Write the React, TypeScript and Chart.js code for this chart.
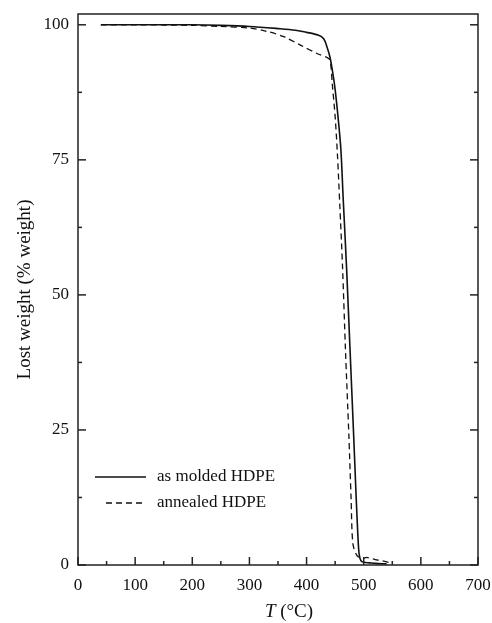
import React, { useEffect, useRef } from "react";
import { Chart, registerables } from "chart.js";

Chart.register(...registerables);

// As molded HDPE (solid)
const moldedT = [40, 100, 200, 250, 300, 350, 380, 400, 420, 430, 436, 441, 446, 450, 455, 460, 464, 470, 476, 482, 487, 490, 492, 495, 500, 510, 520, 540];
const moldedW = [100, 100, 100, 99.9, 99.7, 99.3, 99, 98.6, 98.1, 97.4, 95.8, 94, 91, 88, 83, 77, 68, 55, 40, 25, 12, 5, 2, 0.8, 0.5, 0.4, 0.3, 0.2];

// Annealed HDPE (dashed)
const annealedT = [40, 100, 200, 250, 300, 330, 360, 390, 420, 435, 441, 445, 450, 454, 458, 463, 468, 474, 478, 481, 488, 498, 505, 520, 535, 550];
const annealedW = [100, 100, 99.9, 99.7, 99.4, 98.8, 97.8, 96.2, 94.6, 94, 93.5, 89, 83, 76, 67, 55, 40, 24, 12, 4, 1.8, 1.2, 1.4, 1, 0.7, 0.3];

const xTicks = [0, 100, 200, 300, 400, 500, 600, 700];
const yTicks = [0, 25, 50, 75, 100];

const seriesLabels = ["as molded HDPE", "annealed HDPE"];

const SERIF = "'Liberation Serif', 'DejaVu Serif', serif";

const framePlugin = {
  id: "frame",
  afterDraw(chart: any) {
    const { ctx, chartArea: a, scales } = chart;
    const xs = scales.x;
    const ys = scales.y;
    ctx.save();
    ctx.strokeStyle = "#222";
    ctx.lineWidth = 1.5;
    ctx.strokeRect(a.left, a.top, a.right - a.left, a.bottom - a.top);
    // x ticks (inward)
    for (let v = 0; v <= 700; v += 50) {
      const px = xs.getPixelForValue(v);
      const len = v % 100 === 0 ? 8 : 4;
      ctx.beginPath();
      ctx.moveTo(px, a.bottom);
      ctx.lineTo(px, a.bottom - len);
      ctx.stroke();
    }
    // y ticks (inward)
    for (let v = 0; v <= 100; v += 12.5) {
      const py = ys.getPixelForValue(v);
      const len = v % 25 === 0 ? 8 : 4;
      ctx.beginPath();
      ctx.moveTo(a.left, py);
      ctx.lineTo(a.left + len, py);
      ctx.stroke();
      ctx.beginPath();
      ctx.moveTo(a.right, py);
      ctx.lineTo(a.right - len, py);
      ctx.stroke();
    }
    // x title with italic T
    ctx.fillStyle = "#111";
    ctx.textBaseline = "middle";
    const italic = "italic 19px " + SERIF;
    const normal = "19px " + SERIF;
    ctx.font = italic;
    const w1 = ctx.measureText("T").width;
    ctx.font = normal;
    const rest = " (°C)";
    const w2 = ctx.measureText(rest).width;
    const cx = 289;
    const x0 = cx - (w1 + w2) / 2;
    ctx.font = italic;
    ctx.textAlign = "left";
    ctx.fillText("T", x0, 612);
    ctx.font = normal;
    ctx.fillText(rest, x0 + w1, 612);

    // legend
    const ds = chart.data.datasets;
    const rows = [477, 503];
    ds.forEach((d: any, i: number) => {
      const y = rows[i];
      ctx.beginPath();
      ctx.strokeStyle = "#111";
      ctx.lineWidth = d.borderWidth;
      ctx.setLineDash(d.borderDash || []);
      ctx.moveTo(i === 0 ? 95 : 106, y);
      ctx.lineTo(146, y);
      ctx.stroke();
      ctx.setLineDash([]);
      ctx.font = "17px " + SERIF;
      ctx.fillStyle = "#111";
      ctx.textAlign = "left";
      ctx.textBaseline = "middle";
      ctx.fillText(d.label, 157, y);
    });
    ctx.restore();
  },
};

export default function App() {
  const ref = useRef<HTMLCanvasElement | null>(null);
  useEffect(() => {
    if (!ref.current) return;
    const chart = new Chart(ref.current, {
      type: "line",
      data: {
        datasets: [
          {
            label: seriesLabels[0],
            data: moldedT.map((t, i) => ({ x: t, y: moldedW[i] })),
            borderColor: "#111",
            borderWidth: 1.6,
            pointRadius: 0,
            tension: 0.3,
            fill: false,
          },
          {
            label: seriesLabels[1],
            data: annealedT.map((t, i) => ({ x: t, y: annealedW[i] })),
            borderColor: "#111",
            borderWidth: 1.3,
            borderDash: [6, 4],
            pointRadius: 0,
            tension: 0.3,
            fill: false,
          },
        ],
      },
      options: {
        responsive: false,
        animation: false,
        layout: { padding: { top: 14, right: 14, left: 0, bottom: 0 } },
        plugins: { legend: { display: false }, tooltip: { enabled: false } },
        scales: {
          x: {
            type: "linear",
            min: 0,
            max: 700,
            afterFit: (s: any) => { s.height = 58; s.paddingLeft = 0; s.paddingRight = 0; },
            afterBuildTicks: (s: any) => { s.ticks = xTicks.map((v) => ({ value: v })); },
            grid: { display: false, drawTicks: false },
            border: { display: false },
            ticks: { color: "#111", font: { family: SERIF, size: 17 }, padding: 10, maxRotation: 0 },
          },
          y: {
            type: "linear",
            min: 0,
            max: 102,
            afterFit: (s: any) => { s.width = 78; s.paddingTop = 0; s.paddingBottom = 0; },
            afterBuildTicks: (s: any) => { s.ticks = yTicks.map((v) => ({ value: v })); },
            grid: { display: false, drawTicks: false },
            border: { display: false },
            ticks: { color: "#111", font: { family: SERIF, size: 17 }, padding: 9 },
            title: {
              display: true,
              text: "Lost weight (% weight)",
              color: "#111",
              font: { family: SERIF, size: 19 },
              padding: { top: 14, bottom: 6 },
            },
          },
        },
      },
      plugins: [framePlugin],
    });
    return () => chart.destroy();
  }, []);
  return (
    <div style={{ position: "absolute", left: 0, top: 0, width: 492, height: 623, background: "#fff" }}>
      <canvas ref={ref} width={492} height={623} style={{ display: "block" }} />
    </div>
  );
}
